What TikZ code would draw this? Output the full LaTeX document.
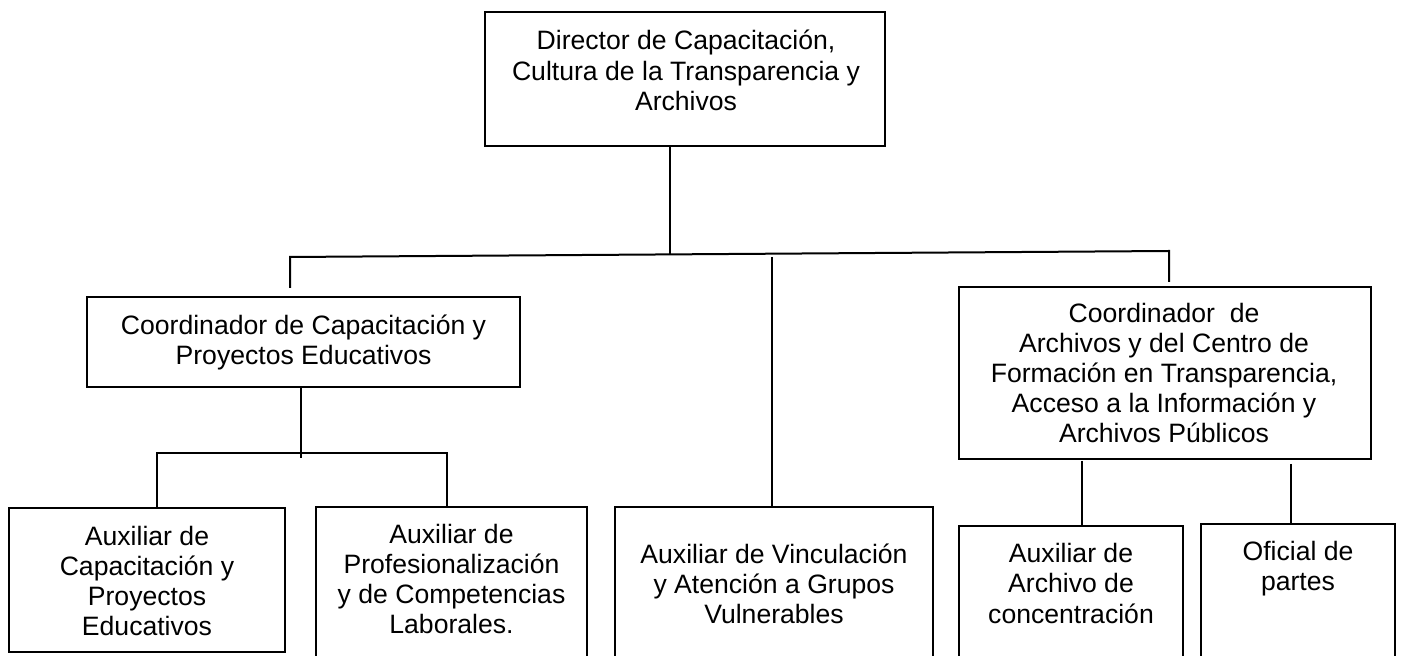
\documentclass[tikz,border=0pt]{standalone}
\usepackage{fontspec}
\setmainfont{Liberation Sans}
\usetikzlibrary{fit}
\begin{document}
\begin{tikzpicture}[x=0.5pt,y=-0.5pt,line width=1pt,
  box/.style={draw=black,rectangle,inner sep=0pt,line width=1pt},
  txt/.style={anchor=north,align=center,inner sep=0pt,font=\fontsize{13.3}{15}\selectfont},
  link/.style={draw=black,line width=1pt}]
\useasboundingbox (0,0) rectangle (1401,656);
\clip (0,0) rectangle (1401,656);
% boxes
\node[box,fit={(485,12) (885,146)}] (dir) {};
\node[box,fit={(87,297) (520,387)}] (cc) {};
\node[box,fit={(959,287) (1371,459)}] (ca) {};
\node[box,fit={(9,508) (285,652)}] (ac) {};
\node[box,fit={(316,507) (587,680)}] (ap) {};
\node[box,fit={(615,507) (933,680)}] (av) {};
\node[box,fit={(959,526) (1183,680)}] (aa) {};
\node[box,fit={(1201,524) (1395,680)}] (of) {};
% texts
\node[txt,font=\fontsize{13.3}{15.2}\selectfont] (dirt) at (686,27.5) {\strut Director de Capacitación,\\Cultura de la Transparencia y\\Archivos};
\node[txt] (cct) at (303.5,313) {\strut Coordinador de Capacitación y\\Proyectos Educativos};
\node[txt] (cat) at (1164,301) {\strut Coordinador\ \ de\\Archivos y del Centro de\\Formación en Transparencia,\\Acceso a la Información y\\Archivos Públicos};
\node[txt] (act) at (147,523) {\strut Auxiliar de\\Capacitación y\\Proyectos\\Educativos};
\node[txt] (apt) at (451.5,521) {\strut Auxiliar de\\Profesionalización\\y de Competencias\\Laborales.};
\node[txt] (avt) at (774,542) {\strut Auxiliar de Vinculación\\y Atención a Grupos\\Vulnerables};
\node[txt] (aat) at (1071,541) {\strut Auxiliar de\\Archivo de\\concentración};
\node[txt] (oft) at (1298,538) {\strut Oficial de\\partes};
% junction coordinates
\coordinate (j0) at (670,254.4);
\coordinate (hL) at (290,257);
\coordinate (hR) at (1169,251);
\coordinate (cctop) at (290,288);
\coordinate (catop) at (1169,282);
\coordinate (hM) at (772,257);
\coordinate (s0) at (301,458);
\coordinate (sL) at (157,453);
\coordinate (sR) at (446.5,453);
\coordinate (k1) at (1082,461);
\coordinate (k2) at (1291,464);
% connectors
\draw[link] (dir.south -| j0) -- (j0);
\draw[link] (cctop) -- (hL) -- (hR) -- (catop);
\draw[link] (hM) -- (hM |- av.north);
\draw[link] (s0 |- cc.south) -- (s0);
\draw[link] (sL |- ac.north) -- (sL) -- (sR) -- (sR |- ap.north);
\draw[link] (k1) -- (k1 |- aa.north);
\draw[link] (k2) -- (k2 |- of.north);
\end{tikzpicture}
\end{document}
